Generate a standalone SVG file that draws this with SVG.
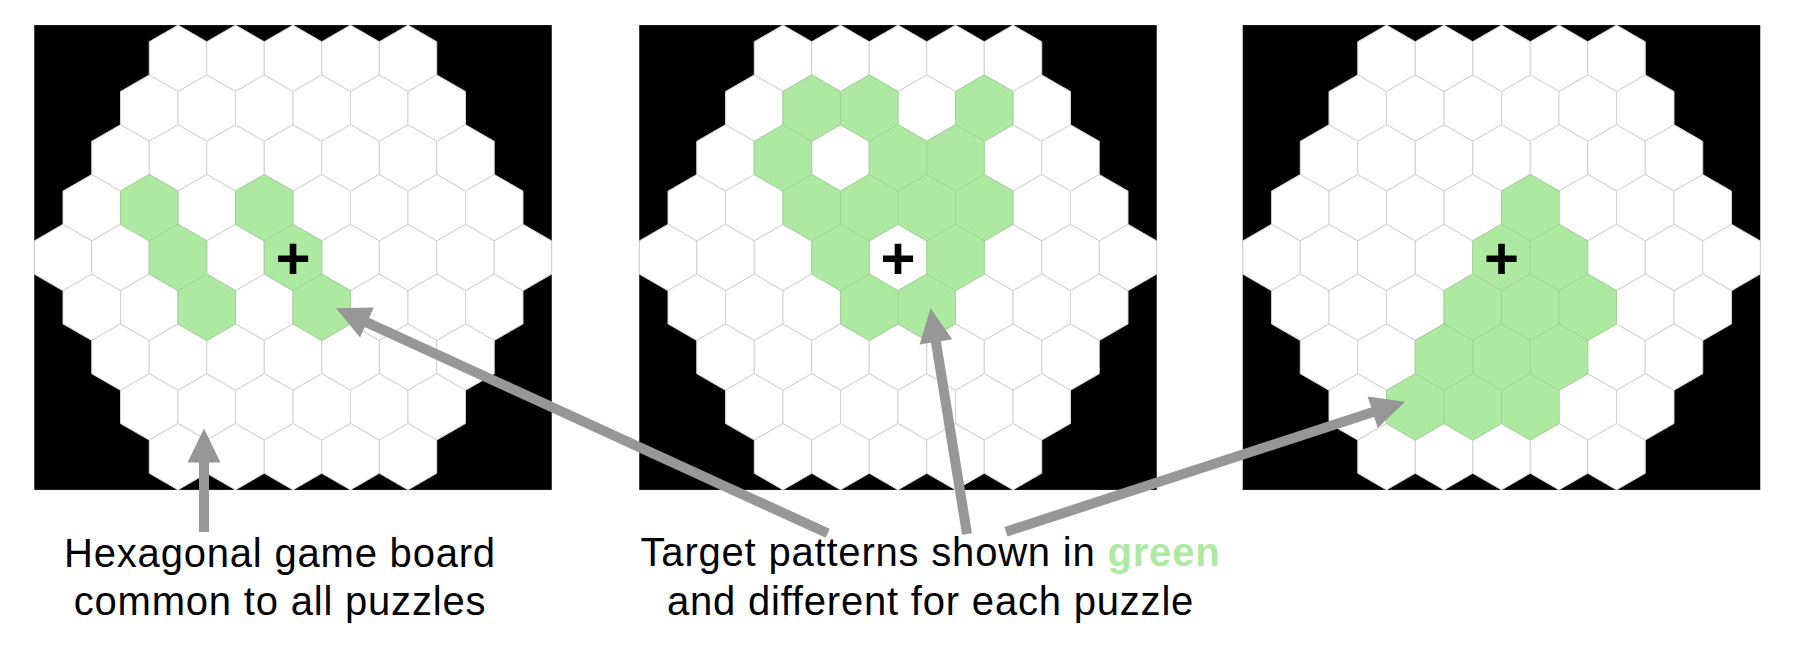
<svg xmlns="http://www.w3.org/2000/svg" xmlns:xlink="http://www.w3.org/1999/xlink" width="1796" height="651" viewBox="0 0 1796 651">
<style>
.bg{fill:#000}
.w{fill:#fff;stroke:#d2d2d2;stroke-width:1}
.g{fill:#ade9a1;stroke:#9fd493;stroke-width:1}
.plus{font-family:"Liberation Sans",Arial,sans-serif;font-weight:bold;font-size:60px;fill:#000;text-anchor:middle}
.lbl{font-family:"Liberation Sans",Arial,sans-serif;font-size:40px;fill:#000;text-anchor:middle;letter-spacing:0.8px}
.grn{fill:#ade9a1;font-weight:bold}
.arr{stroke:#979797;stroke-width:10;fill:none;marker-end:url(#ah)}
</style>
<defs>
<marker id="ah" markerUnits="userSpaceOnUse" markerWidth="36" markerHeight="34" refX="2" refY="16.5" orient="auto" overflow="visible">
<path d="M0,0 L34,16.5 L0,33 Z" fill="#979797"/>
</marker>
<polygon id="h" points="0,-33.2 28.75,-16.6 28.75,16.6 0,33.2 -28.75,16.6 -28.75,-16.6"/>
<g id="r5" class="w"><use xlink:href="#h" x="-115"/><use xlink:href="#h" x="-57.5"/><use xlink:href="#h" x="0"/><use xlink:href="#h" x="57.5"/><use xlink:href="#h" x="115"/></g>
<g id="r6" class="w"><use xlink:href="#h" x="-143.75"/><use xlink:href="#h" x="-86.25"/><use xlink:href="#h" x="-28.75"/><use xlink:href="#h" x="28.75"/><use xlink:href="#h" x="86.25"/><use xlink:href="#h" x="143.75"/></g>
<g id="r7" class="w"><use xlink:href="#h" x="-172.5"/><use xlink:href="#h" x="-115"/><use xlink:href="#h" x="-57.5"/><use xlink:href="#h" x="0"/><use xlink:href="#h" x="57.5"/><use xlink:href="#h" x="115"/><use xlink:href="#h" x="172.5"/></g>
<g id="r8" class="w"><use xlink:href="#h" x="-201.25"/><use xlink:href="#h" x="-143.75"/><use xlink:href="#h" x="-86.25"/><use xlink:href="#h" x="-28.75"/><use xlink:href="#h" x="28.75"/><use xlink:href="#h" x="86.25"/><use xlink:href="#h" x="143.75"/><use xlink:href="#h" x="201.25"/></g>
<g id="r9" class="w"><use xlink:href="#h" x="-230"/><use xlink:href="#h" x="-172.5"/><use xlink:href="#h" x="-115"/><use xlink:href="#h" x="-57.5"/><use xlink:href="#h" x="0"/><use xlink:href="#h" x="57.5"/><use xlink:href="#h" x="115"/><use xlink:href="#h" x="172.5"/><use xlink:href="#h" x="230"/></g>
<g id="board">
<rect class="bg" x="-258.75" y="-232.4" width="517.5" height="464.8"/>
<use xlink:href="#r5" y="-199.2"/>
<use xlink:href="#r6" y="-149.4"/>
<use xlink:href="#r7" y="-99.6"/>
<use xlink:href="#r8" y="-49.8"/>
<use xlink:href="#r9" y="0"/>
<use xlink:href="#r8" y="49.8"/>
<use xlink:href="#r7" y="99.6"/>
<use xlink:href="#r6" y="149.4"/>
<use xlink:href="#r5" y="199.2"/>
</g>
</defs>

<g id="board1" transform="translate(293,257.5)">
<use xlink:href="#board"/>
<g class="g">
<use xlink:href="#h" x="-143.75" y="-49.8"/>
<use xlink:href="#h" x="-28.75" y="-49.8"/>
<use xlink:href="#h" x="-115" y="0"/>
<use xlink:href="#h" x="0" y="0"/>
<use xlink:href="#h" x="-86.25" y="49.8"/>
<use xlink:href="#h" x="28.75" y="49.8"/>
</g>
<text class="plus" x="0" y="21.6">+</text>
</g>

<g id="board2" transform="translate(898,257.5)">
<use xlink:href="#board"/>
<g class="g">
<use xlink:href="#h" x="-86.25" y="-149.4"/>
<use xlink:href="#h" x="-28.75" y="-149.4"/>
<use xlink:href="#h" x="86.25" y="-149.4"/>
<use xlink:href="#h" x="-115" y="-99.6"/>
<use xlink:href="#h" x="0" y="-99.6"/>
<use xlink:href="#h" x="57.5" y="-99.6"/>
<use xlink:href="#h" x="-86.25" y="-49.8"/>
<use xlink:href="#h" x="-28.75" y="-49.8"/>
<use xlink:href="#h" x="28.75" y="-49.8"/>
<use xlink:href="#h" x="86.25" y="-49.8"/>
<use xlink:href="#h" x="-57.5" y="0"/>
<use xlink:href="#h" x="57.5" y="0"/>
<use xlink:href="#h" x="-28.75" y="49.8"/>
<use xlink:href="#h" x="28.75" y="49.8"/>
</g>
<text class="plus" x="0" y="21.6">+</text>
</g>

<g id="board3" transform="translate(1501.5,257.5)">
<use xlink:href="#board"/>
<g class="g">
<use xlink:href="#h" x="28.75" y="-49.8"/>
<use xlink:href="#h" x="0" y="0"/>
<use xlink:href="#h" x="57.5" y="0"/>
<use xlink:href="#h" x="-28.75" y="49.8"/>
<use xlink:href="#h" x="28.75" y="49.8"/>
<use xlink:href="#h" x="86.25" y="49.8"/>
<use xlink:href="#h" x="-57.5" y="99.6"/>
<use xlink:href="#h" x="0" y="99.6"/>
<use xlink:href="#h" x="57.5" y="99.6"/>
<use xlink:href="#h" x="-86.25" y="149.4"/>
<use xlink:href="#h" x="-28.75" y="149.4"/>
<use xlink:href="#h" x="28.75" y="149.4"/>
</g>
<text class="plus" x="0" y="21.6">+</text>
</g>

<g id="connectors">
<line class="arr" x1="204" y1="532" x2="204" y2="460.5"/>
<line class="arr" x1="827.7" y1="533.3" x2="365.1" y2="321.6"/>
<line class="arr" x1="967" y1="534" x2="935.6" y2="339.9"/>
<line class="arr" x1="1006" y1="531.7" x2="1374.6" y2="411.6"/>
</g>

<g id="label-board">
<text class="lbl" x="280" y="567">Hexagonal game board</text>
<text class="lbl" x="280" y="615">common to all puzzles</text>
</g>

<g id="label-targets">
<text class="lbl" x="930.5" y="566">Target patterns shown in <tspan class="grn">green</tspan></text>
<text class="lbl" x="930.5" y="615">and different for each puzzle</text>
</g>
</svg>
